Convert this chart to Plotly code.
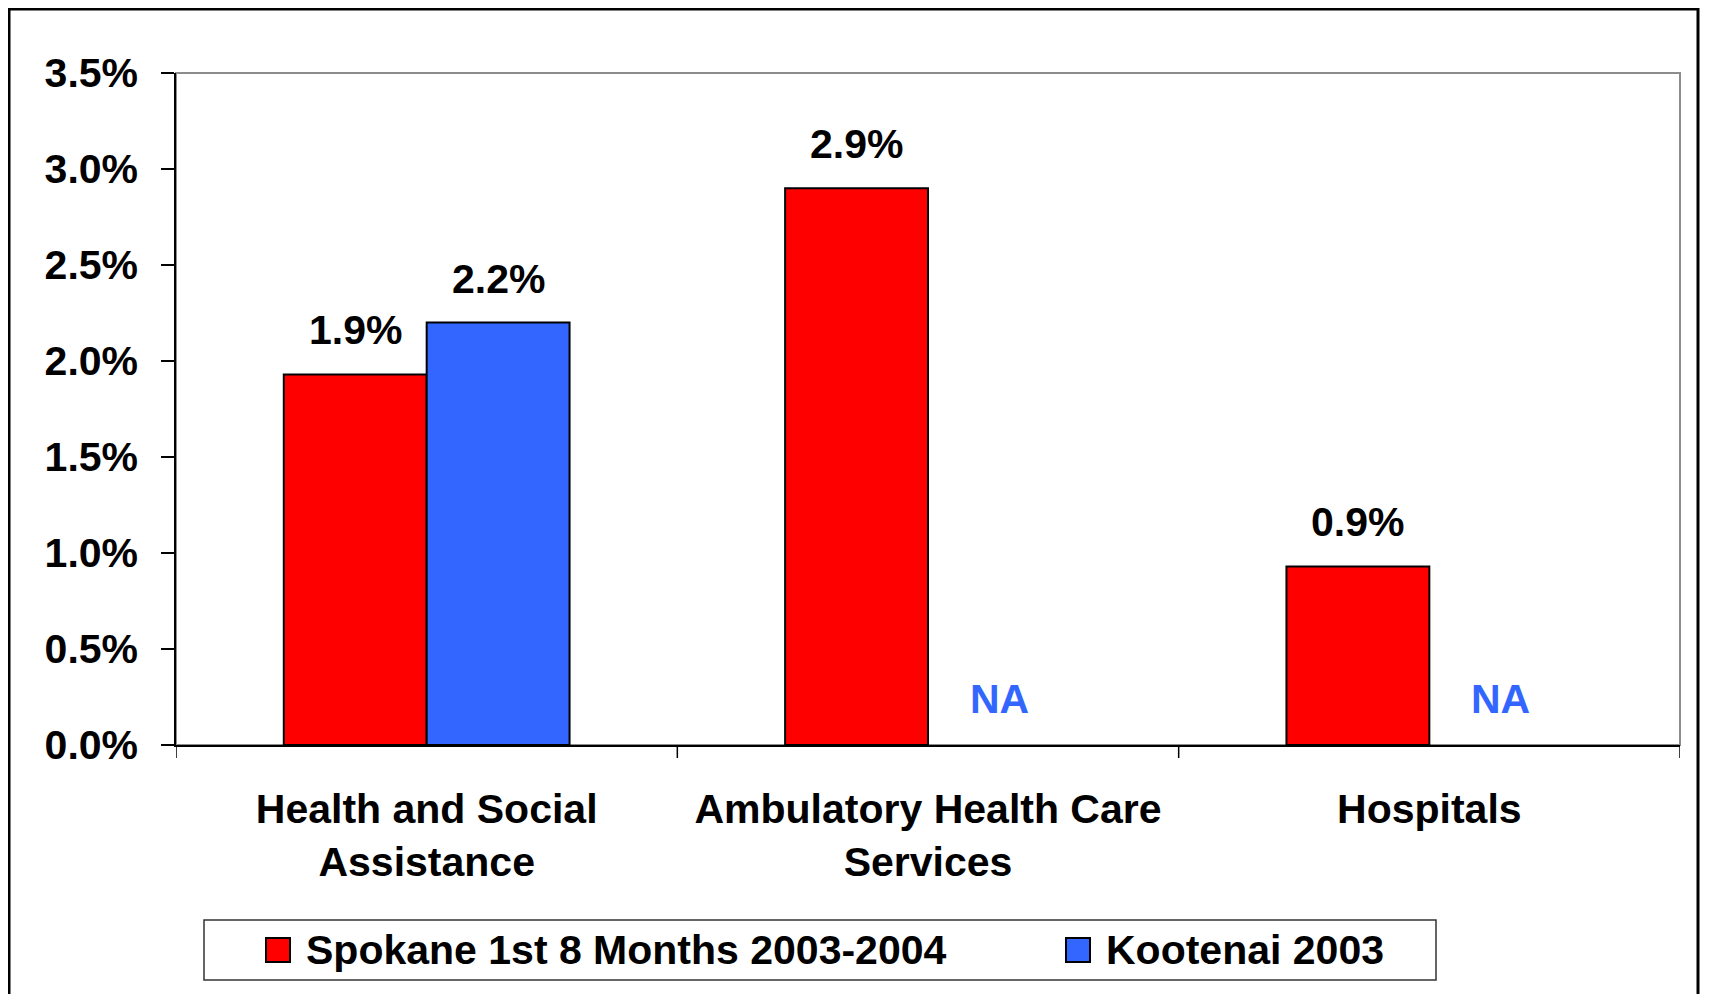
import plotly.graph_objects as go

# data
categories = ["Health and Social<br>Assistance", "Ambulatory Health Care<br>Services", "Hospitals"]
series_names = ["Spokane 1st 8 Months 2003-2004", "Kootenai 2003"]
spokane = [1.93, 2.90, 0.93]
kootenai = [2.20, None, None]
y_ticks = [0.0, 0.5, 1.0, 1.5, 2.0, 2.5, 3.0, 3.5]

RED = "#FF0000"
BLUE = "#3366FF"
FONT = "Liberation Sans, Arial, sans-serif"
FS = 41

# page has an 8px body margin, so the figure is a bit smaller than the window
W, H = 1696, 986
ML, MR, MT, MB = 168, 24, 65, 249
PW, PH = W - ML - MR, H - MT - MB

def px_x(x):
    return (x - ML) / PW

def px_y(y):
    return (H - MB - y) / PH

BARGAP = 0.43
bar_w = (1 - BARGAP) / 2

fig = go.Figure()
for name, vals, color in [(series_names[0], spokane, RED), (series_names[1], kootenai, BLUE)]:
    fig.add_trace(go.Bar(
        x=list(range(len(categories))), y=vals, name=name,
        marker=dict(color=color, line=dict(color="black", width=2)),
        showlegend=False,
    ))

annotations = []
# value labels
for i, (s, k) in enumerate(zip(spokane, kootenai)):
    for off, v in [(-bar_w / 2, s), (bar_w / 2, k)]:
        if v is None:
            annotations.append(dict(
                x=i + off, y=0, xref="x", yref="y", text="NA", showarrow=False,
                yanchor="bottom", yshift=21,
                font=dict(family=FONT, size=FS, color=BLUE, weight="bold"),
            ))
        else:
            annotations.append(dict(
                x=i + off, y=v, xref="x", yref="y", text=f"{v:.1f}%", showarrow=False,
                yanchor="bottom", yshift=19,
                font=dict(family=FONT, size=FS, color="black", weight="bold"),
            ))

shapes = [
    # outer frame
    dict(type="rect", xref="paper", yref="paper", layer="below",
         x0=px_x(1), x1=px_x(1690), y0=px_y(1010), y1=px_y(1),
         line=dict(color="black", width=3), fillcolor="white"),
    # plot area border (top / right)
    dict(type="rect", xref="paper", yref="paper", layer="below",
         x0=0, x1=1, y0=0, y1=1, line=dict(color="#8c8c8c", width=2)),
    # legend box
    dict(type="rect", xref="paper", yref="paper",
         x0=px_x(196), x1=px_x(1428), y0=px_y(972), y1=px_y(912),
         line=dict(color="#333333", width=1.5), fillcolor="white"),
]

# legend keys
legend_items = [(series_names[0], RED, 258, 296), (series_names[1], BLUE, 1058, 1096)]
for name, color, sx, tx in legend_items:
    shapes.append(dict(type="rect", xref="paper", yref="paper",
                       x0=px_x(sx), x1=px_x(sx + 24), y0=px_y(954), y1=px_y(930),
                       line=dict(color="black", width=2), fillcolor=color))
    annotations.append(dict(
        x=px_x(tx), y=px_y(942), xref="paper", yref="paper", text=name,
        showarrow=False, xanchor="left", yanchor="middle",
        font=dict(family=FONT, size=FS, color="black", weight="bold"),
    ))

fig.update_layout(
    width=W, height=H,
    margin=dict(l=ML, r=MR, t=MT, b=MB),
    paper_bgcolor="white",
    plot_bgcolor="white",
    barmode="group",
    bargap=BARGAP,
    bargroupgap=0,
    font=dict(family=FONT, size=FS, color="black"),
    xaxis=dict(
        range=[-0.5, 2.5],
        tickmode="array", tickvals=list(range(len(categories))), ticktext=categories,
        ticks="", showline=True, linecolor="black", linewidth=1.5,
        tickfont=dict(family=FONT, size=FS, color="black", weight="bold"),
        ticklabelstandoff=27,
        showgrid=False, zeroline=False,
    ),
    yaxis=dict(
        range=[0, 3.5],
        tickmode="array", tickvals=y_ticks,
        ticktext=[f"{t:.1f}%" for t in y_ticks],
        ticks="outside", ticklen=13, tickcolor="black", tickwidth=1.5,
        showline=True, linecolor="black", linewidth=1.5,
        tickfont=dict(family=FONT, size=FS, color="black", weight="bold"),
        ticklabelstandoff=15,
        showgrid=False, zeroline=False,
    ),
    shapes=shapes,
    annotations=annotations,
)

# category boundary ticks below the x axis
for b in [-0.5, 0.5, 1.5, 2.5]:
    fig.add_shape(type="line", xref="x", yref="paper", x0=b, x1=b,
                  y0=0, y1=-13 / PH, line=dict(color="black", width=1.5))

fig.write_html("out.html")
